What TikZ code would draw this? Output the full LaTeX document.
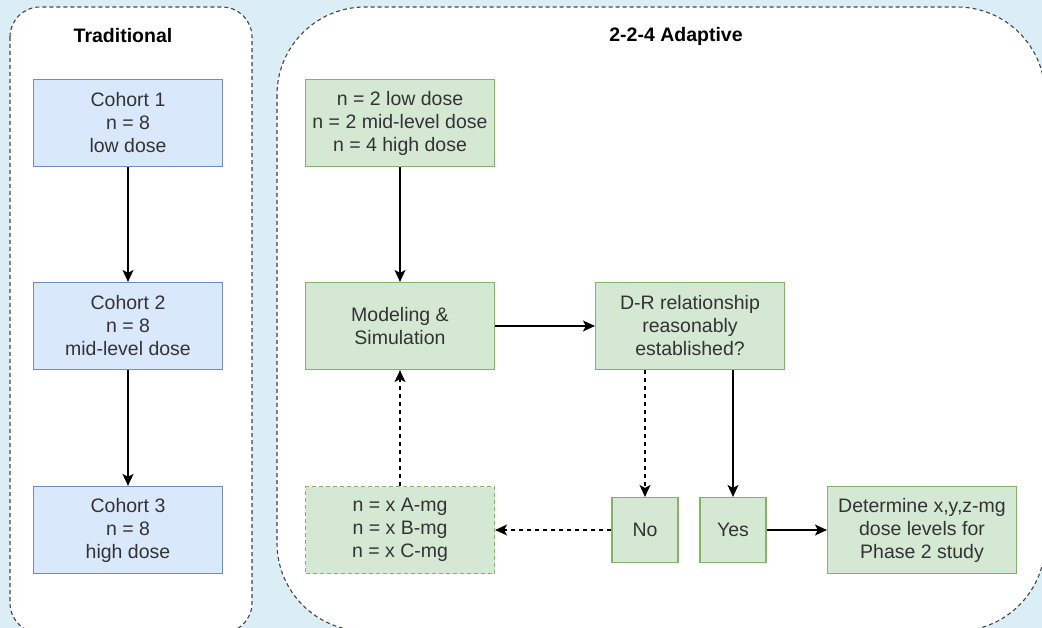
\documentclass[tikz,border=0pt]{standalone}
\usepackage{fontspec}
\setmainfont{Liberation Sans}
\usepackage{xcolor}
\usepackage{tikz}
\usetikzlibrary{arrows.meta}

\definecolor{bgblue}{RGB}{219,238,246}
\definecolor{blfill}{HTML}{DAE8FC}
\definecolor{bldraw}{HTML}{6C8EBF}
\definecolor{grfill}{HTML}{D5E8D4}
\definecolor{grdraw}{HTML}{82B366}
\definecolor{txtgray}{HTML}{333333}
\definecolor{lanegray}{HTML}{444444}

\begin{document}
\begin{tikzpicture} [x = 1pt, y = -1pt,
					    font = \fontsize{19.5}{23}\selectfont,
					    cohort/.style = {draw = bldraw,
					    fill = blfill,
					    line width = 1.2pt,
					    text = txtgray,
					    align = center,
					    minimum width = 189pt,
					    minimum height = 87pt,
					    inner sep = 0pt},
					    stage/.style = {cohort, draw = grdraw, fill = grfill},
					    answer/.style = {stage, minimum width = 66pt, minimum height = 65pt},
					    lane/.style = {draw = lanegray, fill = white, line width = 1.1pt,
					    dash pattern = on 4pt off 3pt},
					    title/.style = {font = \fontsize{19.5}{23}\selectfont\bfseries},
					    flow/.style = {-{Stealth[length = 12pt, width = 11pt, inset = 3pt]}, line width = 1.4pt},
					    back/.style = {flow, dash pattern = on 4pt off 4pt}]

					\useasboundingbox (0,0) rectangle (1042,628);
					\fill [bgblue] (0,0) rectangle (1042,628);
					\begin{scope}
					\clip (0,0) rectangle (1042,628);
					\draw [lane, rounded corners = 30pt] (10,7) rectangle (252,633);
					\draw [lane, rounded corners = 88pt] (277,7) rectangle (1045,631);
					\end{scope}

					% traditional design
					\node (trad) at (123,36) [title] {Traditional};
					\node (c1) at (128,123) [cohort] {Cohort 1\\n = 8\\low dose};
					\node (c2) at (128,326) [cohort] {Cohort 2\\n = 8\\mid-level dose};
					\node (c3) at (128,530) [cohort] {Cohort 3\\n = 8\\high dose};
					\draw [flow] (c1) -- (c2);
					\draw [flow] (c2) -- (c3);

					% adaptive design
					\node (adapt) at (676,36) [title] {2-2-4 Adaptive};
					\node (start) at (400,123) [stage] {n = 2 low dose\\n = 2 mid-level dose\\n = 4 high dose};
					\node (model) at (400,326) [stage] {Modeling \&\\Simulation};
					\node (dr) at (690,326) [stage] {D-R relationship\\reasonably\\established?};
					\node (next) at (400,530) [stage, dash pattern = on 4pt off 3pt] {n = x A-mg\\n = x B-mg\\n = x C-mg};
					\node (no) at (645,530) [answer] {No};
					\node (yes) at (733,530) [answer] {Yes};
					\node (phase) at (922,530) [stage] {Determine x,y,z-mg\\dose levels for\\Phase 2 study};

					\draw [flow] (start) -- (model);
					\draw [flow] (model) -- (dr);
					\draw [back] (dr.south -| no) -- (no);
					\draw [flow] (dr.south -| yes) -- (yes);
					\draw [back] (no) -- (next);
					\draw [back] (next) -- (model);
					\draw [flow] (yes) -- (phase);
				\end{tikzpicture}
\end{document}
